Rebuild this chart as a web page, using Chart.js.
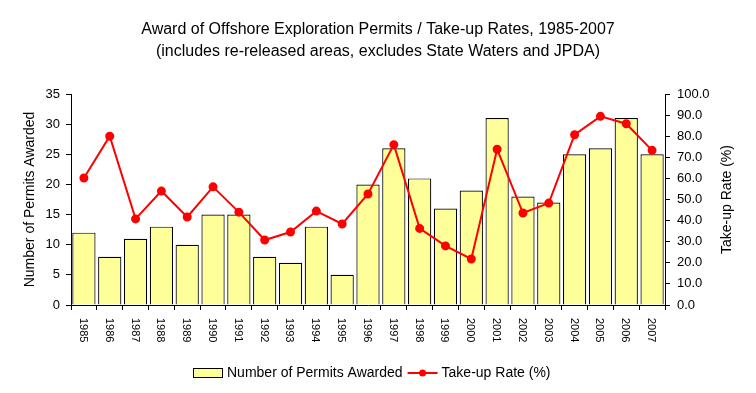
<!DOCTYPE html>
<html>
<head>
<meta charset="utf-8">
<script src="https://cdn.jsdelivr.net/npm/chart.js@4"></script>
<style>
  html, body { margin: 0; padding: 0; background: #fff; }
  #wrap { width: 756px; height: 393px; }
</style>
</head>
<body>
<div id="wrap"><canvas id="permitsChart" width="756" height="393"></canvas></div>
<script>
const years = ['1985', '1986', '1987', '1988', '1989', '1990', '1991', '1992', '1993', '1994', '1995', '1996',
    '1997', '1998', '1999', '2000', '2001', '2002', '2003', '2004', '2005', '2006', '2007'];
const permitsAwarded = [12, 8, 11, 13, 10, 15, 15, 8, 7, 13, 5, 20, 26, 21, 16, 19, 31, 18, 17, 25, 26, 31, 25];
const takeUpRate = [60.2, 80.0, 40.8, 54.0, 41.7, 56.0, 44.0, 30.8, 34.6, 44.5, 38.4, 52.6, 76.0, 36.3, 28.0, 21.8,
    73.8, 43.6, 48.3, 80.7, 89.4, 85.9, 73.3];
const permitTicks = [0, 5, 10, 15, 20, 25, 30, 35];
const rateTicks = [0, 10, 20, 30, 40, 50, 60, 70, 80, 90, 100];

const FONT = "'Liberation Sans', Arial, sans-serif";
const barFill = '#FFFF99';
const lineRed = '#FF0000';

// year labels run top-to-bottom, axis titles + legend drawn by hand
const extras = {
    id: 'extras',
    afterDraw(chart) {
        const ctx = chart.ctx;
        const xs = chart.scales.x;
        const area = chart.chartArea;
        ctx.save();
        ctx.fillStyle = '#000';

        ctx.font = '11px ' + FONT;
        ctx.textAlign = 'left';
        ctx.textBaseline = 'middle';
        years.forEach((y, i) => {
            ctx.save();
            ctx.translate(xs.getPixelForValue(i) - 1, area.bottom + 13);
            ctx.rotate(Math.PI / 2);
            ctx.fillText(y, 0, 0);
            ctx.restore();
        });

        ctx.font = '14px ' + FONT;
        ctx.textAlign = 'center';
        const midY = (area.top + area.bottom) / 2;
        [['Number of Permits Awarded', 30], ['Take-up Rate (%)', 727]].forEach(([t, x]) => {
            ctx.save();
            ctx.translate(x, midY);
            ctx.rotate(-Math.PI / 2);
            ctx.fillText(t, 0, 0);
            ctx.restore();
        });

        // legend
        const l1 = 'Number of Permits Awarded';
        const l2 = 'Take-up Rate (%)';
        const w = 29 + 5 + ctx.measureText(l1).width + 5 + 30 + 4 + ctx.measureText(l2).width;
        let x = Math.round(372 - w / 2);
        const ly = 373;
        ctx.textAlign = 'left';
        ctx.fillStyle = barFill;
        ctx.fillRect(x, ly - 4.5, 29, 9);
        ctx.strokeStyle = '#000';
        ctx.lineWidth = 1;
        ctx.strokeRect(x + 0.5, ly - 4.5, 29, 9);
        x += 34;
        ctx.fillStyle = '#000';
        ctx.fillText(l1, x, ly);
        x += ctx.measureText(l1).width + 5;
        ctx.strokeStyle = lineRed;
        ctx.lineWidth = 2;
        ctx.beginPath();
        ctx.moveTo(x, ly);
        ctx.lineTo(x + 30, ly);
        ctx.stroke();
        ctx.fillStyle = lineRed;
        ctx.beginPath();
        ctx.arc(x + 15, ly, 3.5, 0, Math.PI * 2);
        ctx.fill();
        x += 34;
        ctx.fillStyle = '#000';
        ctx.fillText(l2, x, ly);
        ctx.restore();
    }
};

const axisGrid = {
    display: true,
    drawOnChartArea: false,
    drawTicks: true,
    tickLength: 5,
    color: '#000'
};

new Chart(document.getElementById('permitsChart').getContext('2d'), {
    data: {
        labels: years,
        datasets: [
            {
                type: 'line',
                label: 'Take-up Rate (%)',
                data: takeUpRate,
                yAxisID: 'y2',
                borderColor: lineRed,
                backgroundColor: lineRed,
                borderWidth: 2,
                pointRadius: 3.5,
                pointBackgroundColor: lineRed,
                pointBorderColor: lineRed,
                tension: 0,
                order: 0
            },
            {
                type: 'bar',
                label: 'Number of Permits Awarded',
                data: permitsAwarded,
                yAxisID: 'y',
                backgroundColor: barFill,
                borderColor: '#000',
                borderWidth: 1.2,
                barPercentage: 0.9,
                categoryPercentage: 1.0,
                order: 1
            }
        ]
    },
    options: {
        responsive: false,
        animation: false,
        devicePixelRatio: 1,
        layout: { padding: 0 },
        plugins: {
            legend: { display: false },
            tooltip: { enabled: false },
            title: {
                display: true,
                text: ['Award of Offshore Exploration Permits / Take-up Rates, 1985-2007',
                    '(includes re-released areas, excludes State Waters and JPDA)'],
                color: '#000',
                font: { family: FONT, size: 16, weight: 'normal', lineHeight: 1.375 },
                padding: { top: 19, bottom: 31 }
            }
        },
        scales: {
            x: {
                offset: true,
                grid: Object.assign({}, axisGrid, { offset: true }),
                border: { display: true, color: '#000', width: 1 },
                ticks: { display: false },
                afterFit: s => { s.height = 88; }
            },
            y: {
                position: 'left',
                min: 0,
                max: 35,
                afterBuildTicks: s => { s.ticks = permitTicks.map(v => ({ value: v })); },
                grid: axisGrid,
                border: { display: true, color: '#000', width: 1 },
                ticks: { color: '#000', padding: 6, font: { family: FONT, size: 13 } },
                afterFit: s => { s.width = 71; }
            },
            y2: {
                position: 'right',
                min: 0,
                max: 100,
                afterBuildTicks: s => { s.ticks = rateTicks.map(v => ({ value: v })); },
                grid: axisGrid,
                border: { display: true, color: '#000', width: 1 },
                ticks: { color: '#000', padding: 7, font: { family: FONT, size: 13 }, callback: v => v.toFixed(1) },
                afterFit: s => { s.width = 91; }
            }
        }
    },
    plugins: [extras]
});
</script>
</body>
</html>
